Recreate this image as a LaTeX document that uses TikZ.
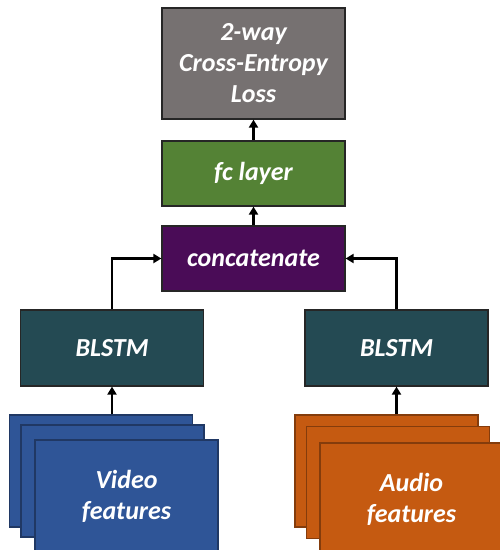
\documentclass[tikz,border=0pt]{standalone}
\usepackage{fontspec}
\setmainfont{Carlito}
\usetikzlibrary{arrows.meta}
\definecolor{lossgray}{HTML}{767171}
\definecolor{fcgreen}{HTML}{548235}
\definecolor{catpurple}{HTML}{4A0C57}
\definecolor{lstmteal}{HTML}{244A53}
\definecolor{vidblue}{HTML}{2F5597}
\definecolor{videdge}{HTML}{203864}
\definecolor{audorange}{HTML}{C55A11}
\definecolor{audedge}{HTML}{843C0C}
\tikzset{
    box/.style={draw=black!85,line width=1.2pt,minimum width=183pt,text=white,align=center,inner sep=0pt,
        font=\fontsize{26}{31}\selectfont\bfseries\itshape},
    feat/.style={box,minimum height=112pt,draw=#1},
    link/.style={line width=2.2pt,-{Triangle[length=8pt,width=9pt]}}
}
\begin{document}
\begin{tikzpicture}[x=1pt,y=-1pt]
\useasboundingbox (0,0) rectangle (500,550);
% top of the network
\node[box,fill=lossgray,minimum height=111pt] (loss) at (253.5,63.5) {2-way\\Cross-Entropy\\Loss};
\node[box,fill=fcgreen,minimum height=65pt] (fc) at (253.5,173.5) {fc layer};
\node[box,fill=catpurple,minimum height=65pt] (cat) at (253.5,258.5) {concatenate};
\node[box,fill=lstmteal,minimum height=76pt] (blstmv) at (112,348) {BLSTM};
\node[box,fill=lstmteal,minimum height=76pt] (blstma) at (396.5,348) {BLSTM};
% stacked feature inputs
\foreach \n/\x/\y/\labeltext in {1/101/471/{}, 2/112.5/481/{}, 3/126.5/496/{Video\\features}}{
    \node[feat=videdge,fill=vidblue] (vid\n) at (\x,\y) {\labeltext};
}
\foreach \n/\x/\y/\labeltext in {1/386.5/471/{}, 2/398/482.5/{}, 3/411.5/499/{Audio\\features}}{
    \node[feat=audedge,fill=audorange] (aud\n) at (\x,\y) {\labeltext};
}
\draw[link] (vid1.north -| blstmv.south) -- (blstmv.south);
\draw[link] (aud1.north -| blstma.south) -- (blstma.south);
\draw[link] (blstmv.north) |- (cat.west);
\draw[link] (blstma.north) |- (cat.east);
\draw[link] (cat.north) -- (fc.south);
\draw[link] (fc.north) -- (loss.south);
\end{tikzpicture}
\end{document}
